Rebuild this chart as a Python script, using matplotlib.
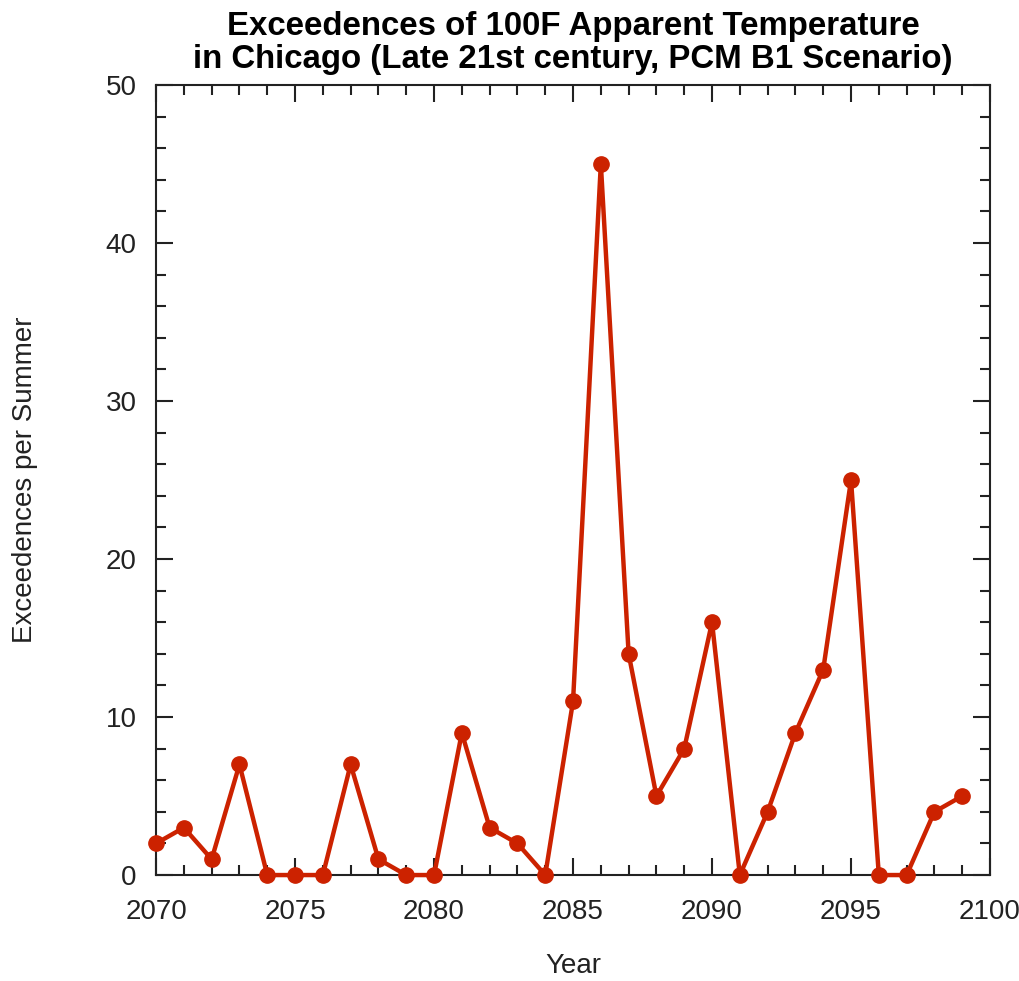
import matplotlib.pyplot as plt
from matplotlib.ticker import MultipleLocator

years = list(range(2070, 2100))
exceedences = [2, 3, 1, 7, 0, 0, 0, 7, 1, 0, 0, 9, 3, 2, 0,
               11, 45, 14, 5, 8, 16, 0, 4, 9, 13, 25, 0, 0, 4, 5]

plt.rcParams['font.family'] = ['Liberation Sans', 'DejaVu Sans']

fig = plt.figure(figsize=(10.2, 9.81), dpi=100)
ax = fig.add_axes([0.153, 0.108, 0.8176, 0.8054])

ax.plot(years, exceedences, color='#cc2200', linewidth=3.2,
        marker='o', markersize=11, clip_on=False, zorder=3)

ax.set_xlim(2070, 2100)
ax.set_ylim(0, 50)
ax.xaxis.set_major_locator(MultipleLocator(5))
ax.xaxis.set_minor_locator(MultipleLocator(1))
ax.yaxis.set_major_locator(MultipleLocator(10))
ax.yaxis.set_minor_locator(MultipleLocator(2))
ax.tick_params(which='both', direction='in', top=True, right=True,
               labelsize=20, colors='#222222', width=1.5)
ax.tick_params(axis='x', which='major', length=12, pad=17)
ax.tick_params(axis='y', which='major', length=12, pad=14)
ax.tick_params(which='minor', length=7)
for s in ax.spines.values():
    s.set_linewidth(1.5)
    s.set_color('#222222')

ax.set_xlabel('Year', fontsize=20, color='#222222')
ax.set_ylabel('Exceedences per Summer', fontsize=20, color='#222222')
ax.xaxis.set_label_coords(0.5, -0.099)
ax.yaxis.set_label_coords(-0.1415, 0.5)
ax.set_title('Exceedences of 100F Apparent Temperature\n'
             'in Chicago (Late 21st century, PCM B1 Scenario)',
             fontsize=23.8, fontweight='bold', linespacing=1.1, pad=12)

fig.savefig('out.png', dpi=100)
